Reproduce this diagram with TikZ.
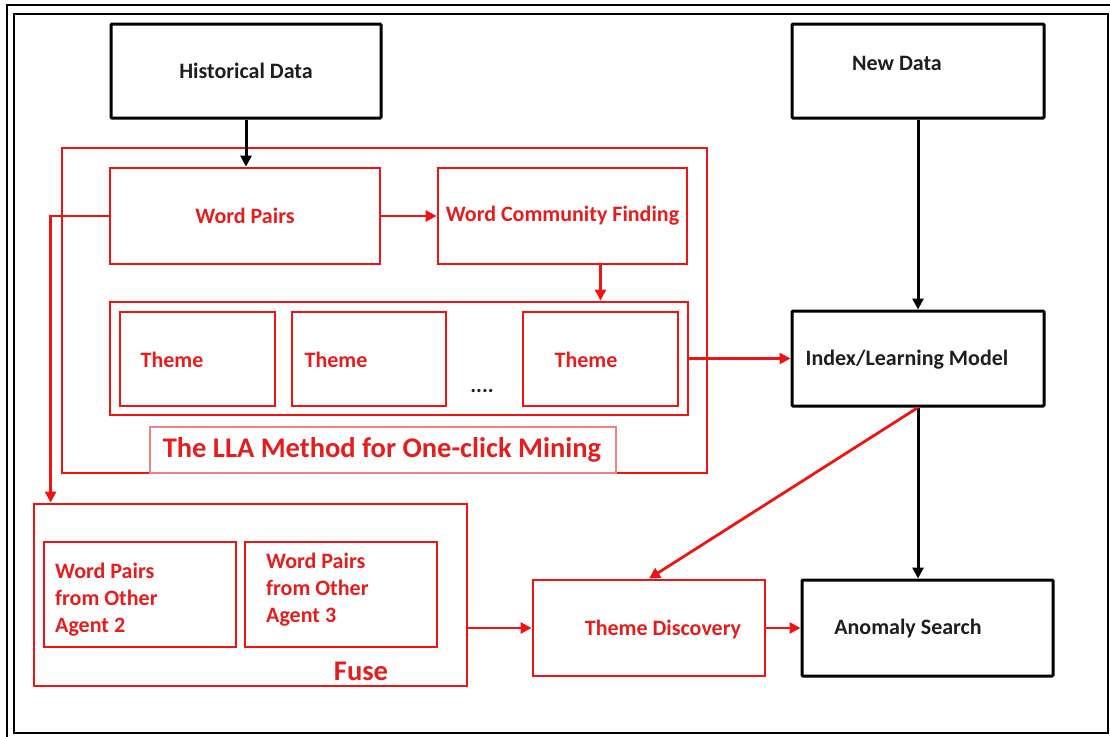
\documentclass[tikz,border=0pt]{standalone}
\usepackage{fontspec}
\setmainfont{Carlito}
\usetikzlibrary{arrows.meta,calc}
\definecolor{lred}{RGB}{238,20,20}
\definecolor{ltxt}{RGB}{228,30,30}
\definecolor{lpink}{RGB}{242,130,130}
\definecolor{dtxt}{RGB}{30,30,30}
\begin{document}
\begin{tikzpicture}[x=1pt,y=-1pt,
  lbl/.style={font=\fontsize{22}{27}\selectfont\bfseries},
  blkbox/.style={draw=black,line width=3pt,rounded corners=1pt,inner sep=0pt,lbl,text=dtxt},
  redbox/.style={draw=lred,line width=2.8pt,inner sep=0pt,lbl,text=ltxt},
  rtext/.style={lbl,text=ltxt,inner sep=0pt},
  btext/.style={lbl,text=dtxt,inner sep=0pt},
  big/.style={font=\fontsize{28.5}{32}\selectfont\bfseries,text=ltxt,inner sep=0pt},
  barrow/.style={draw=black,line width=3pt,-{Triangle[length=11pt,width=11pt]}},
  rarrow/.style={draw=lred,line width=2.8pt,-{Triangle[length=11pt,width=11pt]}}]
\useasboundingbox (0,0) rectangle (1110,736);

% double frame
\draw[line width=2.5pt] (1112,5) -- (7,5) -- (7,738);
\draw[line width=2.5pt] (14,14) rectangle (1108,733);

% LLA method frame and its caption box
\node[redbox,minimum width=645pt,minimum height=325pt] (lla) at (384.5,310.5) {};
\node[draw=lpink,line width=1.4pt,minimum width=466pt,minimum height=46pt,inner sep=0pt] (llacap) at (383,450) {};
\node[big] (llatext) at (382,450) {The LLA Method for One-click Mining};

% data sources
\node[blkbox,minimum width=270pt,minimum height=94pt] (hd) at (246,71) {Historical Data};
\node[blkbox,minimum width=252pt,minimum height=94pt] (nd) at (918,71) {};
\node[btext] (ndtext) at (897,63) {New Data};

% word pairs and community finding
\node[redbox,minimum width=270pt,minimum height=96pt] (wp) at (245,216) {Word Pairs};
\node[redbox,minimum width=249pt,minimum height=96pt] (wcf) at (562.5,216) {Word Community Finding};

% themes
\node[redbox,minimum width=578pt,minimum height=113pt] (themes) at (399,358.5) {};
\node[redbox,minimum width=155pt,minimum height=94pt] (th1) at (197.5,359) {};
\node[redbox,minimum width=154pt,minimum height=94pt] (th2) at (369,359) {};
\node[redbox,minimum width=155pt,minimum height=94pt] (th3) at (600.5,359) {};
\node[rtext] (th1t) at (172,360) {Theme};
\node[rtext] (th2t) at (336,360) {Theme};
\node[rtext] (th3t) at (586,360) {Theme};
\node[btext] (dots) at (482,391) {....};

% model and search
\node[blkbox,minimum width=252pt,minimum height=95pt] (idx) at (918,358.5) {};
\node[btext] (idxt) at (907,360) {Index/Learning Model};
\node[blkbox,minimum width=251pt,minimum height=96pt] (an) at (927.5,628) {};
\node[btext] (ant) at (908,629) {Anomaly Search};
\node[redbox,minimum width=232pt,minimum height=96pt] (td) at (649,628) {};
\node[rtext] (tdt) at (663,630) {Theme Discovery};

% fuse
\node[redbox,minimum width=433pt,minimum height=182pt] (fuse) at (250.5,595) {};
\node[redbox,minimum width=192pt,minimum height=105pt] (ag2) at (140,594.5) {};
\node[redbox,minimum width=192pt,minimum height=105pt] (ag3) at (341,594.5) {};
\node[rtext,align=left,anchor=north west] (ag2t) at (55,563) {Word Pairs\\from Other\\Agent 2};
\node[rtext,align=left,anchor=north west] (ag3t) at (266,553) {Word Pairs\\from Other\\Agent 3};
\node[big] (fuset) at (361,671) {Fuse};

% connectors
\draw[barrow] (hd.south) -- (hd.south |- wp.north);
\draw[rarrow] (wp.east) -- (wcf.west);
\draw[rarrow] (th3.north |- wcf.south) -- (th3.north |- themes.north);
\draw[rarrow] (themes.east) -- (idx.west);
\draw[barrow] (nd.south) -- (idx.north);
\draw[barrow] (idx.south) -- (idx.south |- an.north);
\draw[rarrow] (idx.south) -- (td.north);
\draw[rarrow] (td.east) -- (td.east -| an.west);
\draw[rarrow] (fuse.east |- td.east) -- (td.west);
\draw[rarrow] (wp.west) -| ($(fuse.north west)+(18,0)$);
\end{tikzpicture}
\end{document}
